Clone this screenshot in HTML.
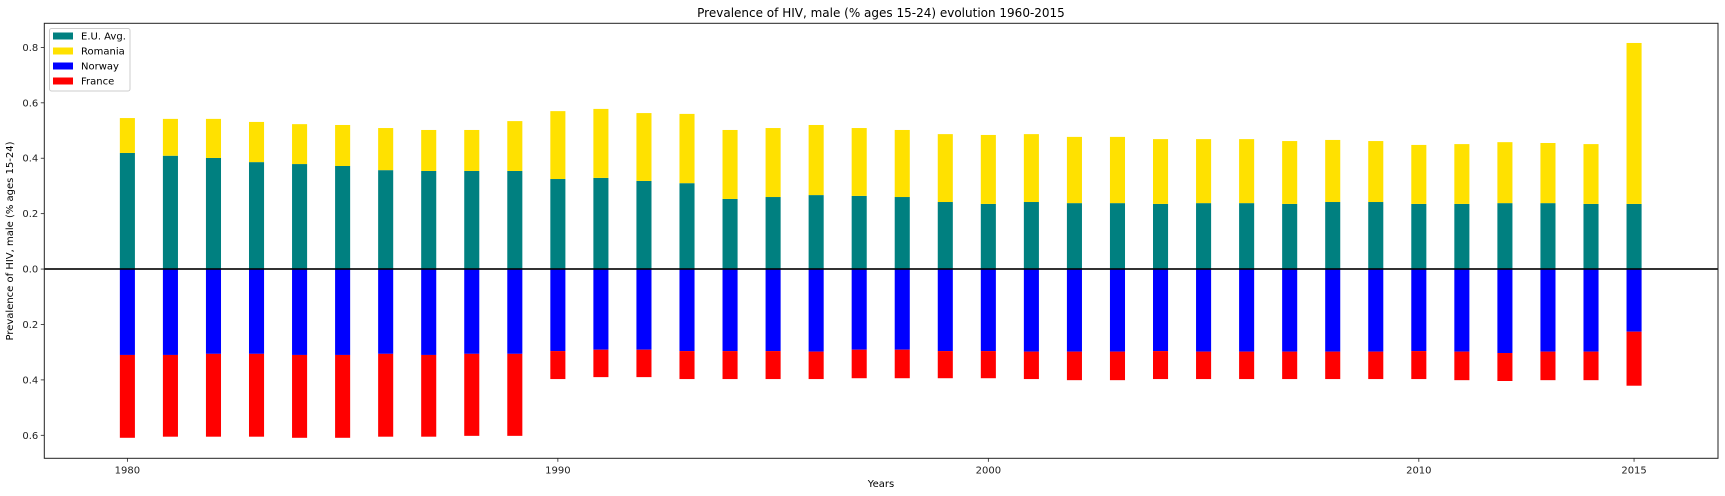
<!DOCTYPE html>
<html>
<head>
<meta charset="utf-8">
<style>
  html, body { margin: 0; padding: 0; background: #fff; }
  svg { display: block; font-family: "DejaVu Sans", "Liberation Sans", sans-serif; }
</style>
</head>
<body>
<svg id="chart" width="1725" height="496" viewBox="0 0 1725 496" xmlns="http://www.w3.org/2000/svg">
  <rect x="0" y="0" width="1725" height="496" fill="#ffffff"/>
  <text x="881" y="17" text-anchor="middle" font-size="12" fill="#000">Prevalence of HIV, male (% ages 15-24) evolution 1960-2015</text>
  <g id="bars"></g>
  <g id="axes"></g>
  <text x="881" y="487" text-anchor="middle" font-size="10" fill="#000">Years</text>
  <text transform="translate(13,241) rotate(-90)" text-anchor="middle" font-size="10" fill="#000">Prevalence of HIV, male (% ages 15-24)</text>
  <g id="legend"></g>
</svg>
<script>
const years = [1980,1981,1982,1983,1984,1985,1986,1987,1988,1989,1990,1991,1992,1993,1994,1995,1996,1997,1998,1999,2000,2001,2002,2003,2004,2005,2006,2007,2008,2009,2010,2011,2012,2013,2014,2015];
const euAvg = [0.419,0.409,0.401,0.386,0.379,0.372,0.357,0.354,0.354,0.354,0.325,0.329,0.318,0.310,0.253,0.260,0.267,0.264,0.260,0.242,0.235,0.242,0.238,0.238,0.235,0.238,0.238,0.235,0.242,0.242,0.235,0.235,0.238,0.238,0.235,0.235];
const romania = [0.126,0.133,0.141,0.145,0.144,0.148,0.152,0.148,0.148,0.180,0.245,0.249,0.245,0.250,0.249,0.249,0.253,0.245,0.242,0.245,0.249,0.245,0.239,0.239,0.234,0.231,0.231,0.227,0.224,0.220,0.213,0.216,0.220,0.217,0.216,0.581];
const norway = [0.310,0.310,0.306,0.306,0.310,0.310,0.306,0.310,0.306,0.306,0.296,0.291,0.291,0.296,0.296,0.296,0.298,0.291,0.291,0.296,0.296,0.298,0.298,0.298,0.296,0.298,0.298,0.298,0.298,0.298,0.296,0.298,0.303,0.298,0.298,0.226];
const france = [0.299,0.295,0.299,0.299,0.299,0.299,0.299,0.295,0.296,0.296,0.101,0.099,0.099,0.101,0.101,0.101,0.099,0.103,0.103,0.098,0.098,0.099,0.103,0.103,0.101,0.099,0.099,0.099,0.099,0.099,0.101,0.103,0.101,0.103,0.103,0.195];
const xTicks = [1980,1990,2000,2010,2015];
const yTicks = [0.8,0.6,0.4,0.2,0.0,-0.2,-0.4,-0.6];

const NS = "http://www.w3.org/2000/svg";
const plotL = 44.3, plotR = 1718, plotT = 23.3, plotB = 458.3;
const xMin = 1978.07, xMax = 2016.95, yMin = -0.683, yMax = 0.887;
function xs(v){ return plotL + (v - xMin) / (xMax - xMin) * (plotR - plotL); }
function ys(v){ return plotT + (yMax - v) / (yMax - yMin) * (plotB - plotT); }
const barW = xs(0.35) - xs(0);

function mk(tag, attrs, parent){
  const e = document.createElementNS(NS, tag);
  for (const k in attrs) e.setAttribute(k, attrs[k]);
  parent.appendChild(e);
  return e;
}
function barRect(parent, x, v0, v1, color){
  const y0 = ys(Math.max(v0, v1)), y1 = ys(Math.min(v0, v1));
  return mk('rect', {x: x - barW/2, y: y0, width: barW, height: y1 - y0, fill: color}, parent);
}

const gb = document.getElementById('bars');
years.forEach((yr, i) => {
  const cx = xs(yr);
  let r = barRect(gb, cx, 0, euAvg[i], '#008080');
  
  
  r = barRect(gb, cx, euAvg[i], euAvg[i] + romania[i], '#ffe100');
  
  
  r = barRect(gb, cx, 0, -norway[i], '#0000ff');
  
  
  r = barRect(gb, cx, -norway[i], -norway[i] - france[i], '#ff0000');
  
  
});

const ga = document.getElementById('axes');
let z = mk('line', {x1: plotL, x2: plotR, y1: ys(0), y2: ys(0), stroke: '#000', 'stroke-width': 2, 'stroke-opacity': 0.8}, ga);


let fr = mk('rect', {x: plotL, y: plotT, width: plotR - plotL, height: plotB - plotT, fill: 'none', stroke: '#222', 'stroke-width': 1}, ga);



xTicks.forEach(t => {
  const x = xs(t);
  const tk = mk('line', {x1: x, x2: x, y1: plotB, y2: plotB + 3.5, stroke: '#222', 'stroke-width': 0.8}, ga);
  
  
  const lb = mk('text', {x: x, y: plotB + 15, 'text-anchor': 'middle', 'font-size': 10, fill: '#222'}, ga);
  lb.textContent = String(t);
  
  
});
yTicks.forEach(t => {
  const y = ys(t);
  const tk = mk('line', {x1: plotL - 3.5, x2: plotL, y1: y, y2: y, stroke: '#222', 'stroke-width': 0.8}, ga);
  
  
  const lb = mk('text', {x: plotL - 6, y: y + 3.5, 'text-anchor': 'end', 'font-size': 10, fill: '#222'}, ga);
  lb.textContent = Math.abs(t).toFixed(1);
  
  
});

const gl = document.getElementById('legend');
const lbox = mk('rect', {x: 49.5, y: 28.5, width: 80.5, height: 62.5, rx: 2, fill: '#fff', 'fill-opacity': 0.8, stroke: '#ccc', 'stroke-width': 1}, gl);


const legendNames = ['E.U. Avg.', 'Romania', 'Norway', 'France'];
const legendColors = ['#008080', '#ffe100', '#0000ff', '#ff0000'];
legendNames.forEach((n, i) => {
  const cy = 36 + i * 15;
  const sw = mk('rect', {x: 53, y: cy - 3.5, width: 20, height: 7, fill: legendColors[i]}, gl);
  
  
  const tx = mk('text', {x: 81, y: cy + 3.5, 'font-size': 10, fill: '#000'}, gl);
  tx.textContent = n;
  
  
});
</script>
</body>
</html>
